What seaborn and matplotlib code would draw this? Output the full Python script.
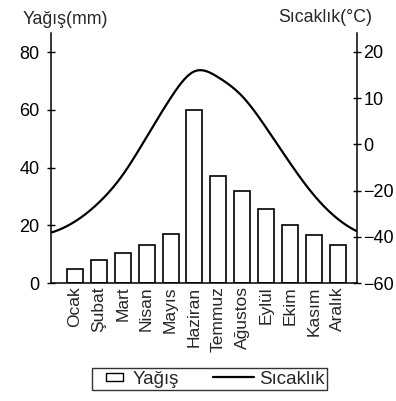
import numpy as np
import pandas as pd
import matplotlib
matplotlib.use("Agg")
import matplotlib.pyplot as plt
import seaborn as sns
from matplotlib.patches import Patch, Rectangle
from matplotlib.lines import Line2D
from matplotlib.legend_handler import HandlerPatch, HandlerBase

# ---- data ----
months = ["Ocak", "Şubat", "Mart", "Nisan", "Mayıs", "Haziran", "Temmuz",
          "Ağustos", "Eylül", "Ekim", "Kasım", "Aralık"]
precip_mm = [5, 8, 10.5, 13.3, 17, 60, 37, 32, 25.8, 20, 16.5, 13]
temp_c = [-33.4, -25.2, -13.2, 1.6, 10.0, 15.8, 14.5, 10.4, 3.6, -8.1, -22.0, -32.3]
left_ticks = [0, 20, 40, 60, 80]
right_ticks = [-60, -40, -20, 0, 10, 20]
right_tick_labels = ["−60", "−40", "−20", "0", "10", "20"]

sns.set_style("ticks")
plt.rcParams["font.family"] = ["Liberation Sans", "DejaVu Sans"]

W, H = 396, 401
fig = plt.figure(figsize=(W / 100, H / 100), dpi=100)
x0, x1, yb, yt = 51, 357, 283, 33
ax = fig.add_axes([x0 / W, 1 - yb / H, (x1 - x0) / W, (yb - yt) / H])

df = pd.DataFrame({"Ay": months, "Yağış": precip_mm})
sns.barplot(data=df, x="Ay", y="Yağış", ax=ax, color="white", edgecolor="black",
            linewidth=1.2, width=0.67, saturation=1)

ax.set_ylim(0, 86.6)
ax.set_yticks(left_ticks)
ax.set_xlabel("")
ax.set_ylabel("")
ax.set_xticks(range(len(months)))
ax.set_xticklabels(months, rotation=90, fontsize=12.5)
ax.tick_params(axis="x", length=0, pad=2.5)
ax.tick_params(axis="y", direction="inout", length=6, width=1, pad=5.3,
               labelsize=13, colors="black")
for s in ["top", "right"]:
    ax.spines[s].set_visible(False)
for s in ["left", "bottom"]:
    ax.spines[s].set_linewidth(1.1)
    ax.spines[s].set_color("black")

# ---- right axis with the chart's uneven temperature scale ----
def fwd(t):
    t = np.asarray(t, dtype=float)
    return np.where(t >= 0, 3 + t / 10.0, 3 + t / 20.0)

def inv(p):
    p = np.asarray(p, dtype=float)
    return np.where(p >= 3, (p - 3) * 10.0, (p - 3) * 20.0)

ax2 = ax.twinx()
ax2.set_yscale("function", functions=(fwd, inv))
ax2.set_ylim(-60, 24.1)
ax2.set_yticks(right_ticks)
ax2.set_yticklabels(right_tick_labels)
ax2.tick_params(axis="y", direction="inout", length=6, width=1, pad=1.5,
                labelsize=13, colors="black")
for s in ["top", "left", "bottom"]:
    ax2.spines[s].set_visible(False)
ax2.spines["right"].set_linewidth(1.1)
ax2.spines["right"].set_color("black")

# smooth curve through the monthly values (cubic spline, parabolic run-out ends)
def smooth_curve(xk, yk, xe):
    xk = np.asarray(xk, float); yk = np.asarray(yk, float)
    n = len(xk); h = np.diff(xk)
    A = np.zeros((n, n)); b = np.zeros(n)
    A[0, 0] = 1; A[0, 1] = -1
    A[-1, -1] = 1; A[-1, -2] = -1
    for i in range(1, n - 1):
        A[i, i - 1] = h[i - 1]; A[i, i] = 2 * (h[i - 1] + h[i]); A[i, i + 1] = h[i]
        b[i] = 6 * ((yk[i + 1] - yk[i]) / h[i] - (yk[i] - yk[i - 1]) / h[i - 1])
    M = np.linalg.solve(A, b)
    i = np.clip(np.searchsorted(xk, xe) - 1, 0, n - 2)
    hi = h[i]; a = xk[i + 1] - xe; c = xe - xk[i]
    return (M[i] * a ** 3 / (6 * hi) + M[i + 1] * c ** 3 / (6 * hi)
            + (yk[i] / hi - M[i] * hi / 6) * a + (yk[i + 1] / hi - M[i + 1] * hi / 6) * c)

xlo, xhi = -1.0, 11.8
xm = np.arange(len(months))
xd = np.linspace(xlo, xhi, 400)
td = inv(smooth_curve(xm, fwd(temp_c), xd))
ax2.plot(xd, td, color="black", lw=1.6, solid_capstyle="butt")
ax.set_xlim(xlo, xhi)

# ---- axis titles ----
fig.text(23 / W, 1 - 24.5 / H, "Yağış(mm)", fontsize=12.8, ha="left", va="baseline")
fig.text(372 / W, 1 - 22 / H, "Sıcaklık(°C)", fontsize=12.8, ha="right", va="baseline")

# ---- legend ----
PX = 0.72  # points per pixel
LF = 13.5

def small_rect(legend, orig_handle, xdescent, ydescent, width, height, fontsize):
    w = 17 * PX; hgt = 8 * PX
    return Rectangle((-xdescent + 11.4 * PX, -ydescent + (height - hgt) / 2), w, hgt)

class LongLine(HandlerBase):
    def create_artists(self, legend, orig_handle, xdescent, ydescent, width,
                       height, fontsize, trans):
        y = (height - ydescent) / 2
        ln = Line2D([-xdescent - 7.6 * PX, -xdescent + width - 2 * PX], [y, y],
                    color="black", lw=1.6, transform=trans)
        return [ln]

handles = [Patch(facecolor="white", edgecolor="black", linewidth=1.0),
           Line2D([], [], color="black", lw=1.6)]
leg = fig.legend(handles, ["Yağış", "Sıcaklık"], loc="center",
                 bbox_to_anchor=(209.5 / W, 1 - 379 / H), bbox_transform=fig.transFigure,
                 ncol=2, fontsize=LF, frameon=True, fancybox=False, edgecolor="black",
                 handlelength=35.4 * PX / LF, handletextpad=3 * PX / LF,
                 columnspacing=41.6 * PX / LF,
                 borderpad=0.13, borderaxespad=0,
                 handler_map={Patch: HandlerPatch(patch_func=small_rect),
                              Line2D: LongLine()})
leg.get_frame().set_linewidth(1.0)

fig.savefig("out.png", dpi=100)
